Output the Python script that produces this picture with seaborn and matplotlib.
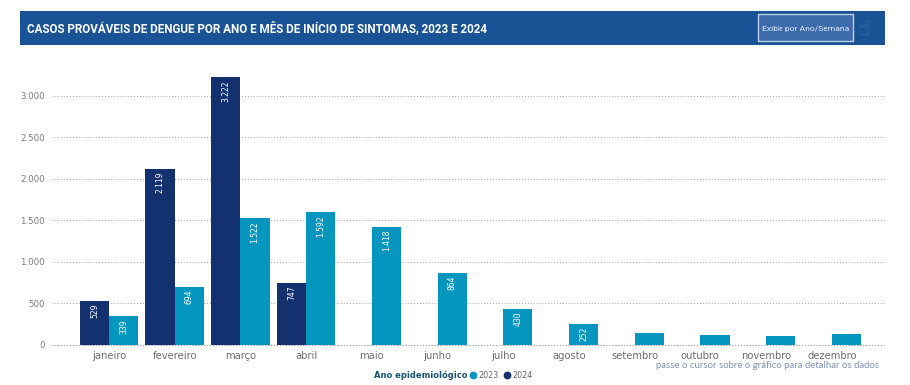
import numpy as np
import pandas as pd
import seaborn as sns
import matplotlib
matplotlib.use("Agg")
import matplotlib.pyplot as plt
from matplotlib.patches import Rectangle
from matplotlib.lines import Line2D
from matplotlib.ticker import FuncFormatter

months = ["janeiro", "fevereiro", "março", "abril", "maio", "junho", "julho",
          "agosto", "setembro", "outubro", "novembro", "dezembro"]
cases_2024 = [529, 2119, 3222, 747, np.nan, np.nan, np.nan, np.nan, np.nan, np.nan, np.nan, np.nan]
cases_2023 = [339, 694, 1522, 1592, 1418, 864, 430, 252, 135, 120, 105, 125]
labels_2024 = ["529", "2.119", "3.222", "747"]
labels_2023 = ["339", "694", "1.522", "1.592", "1.418", "864", "430", "252", "", "", "", ""]
y_ticks = [0, 500, 1000, 1500, 2000, 2500, 3000]
title = "CASOS PROVÁVEIS DE DENGUE POR ANO E MÊS DE INÍCIO DE SINTOMAS, 2023 E 2024"
button = "Exibir por Ano/Semana"
legend_title = "Ano epidemiológico"
hint = "passe o cursor sobre o gráfico para detalhar os dados"

DARK, LIGHT, BAND = "#14316f", "#0596c0", "#1a5296"
W, H = 910, 385

sns.set_theme(style="white")
plt.rcParams["font.family"] = ["DejaVu Sans"]

df = pd.DataFrame({
    "mes": months * 2,
    "ano": ["2024"] * 12 + ["2023"] * 12,
    "casos": cases_2024 + cases_2023,
})

fig = plt.figure(figsize=(W / 100, H / 100), dpi=100, facecolor="white")
ax = fig.add_axes([52 / W, (H - 344.5) / H, 833 / W, 272.8 / H])
ax.set_axisbelow(True)
ax.yaxis.grid(True, color="#a0a0a0", linestyle=(0, (1, 2)), linewidth=0.7, clip_on=False)
sns.barplot(data=df, x="mes", y="casos", hue="ano", hue_order=["2024", "2023"],
            palette={"2024": DARK, "2023": LIGHT}, width=0.89, saturation=1,
            legend=False, ax=ax, edgecolor="none", errorbar=None)
ax.set_xlim(-0.868, 11.81)
ax.set_ylim(0, 3290)
ax.set_xlabel("")
ax.set_ylabel("")
ax.set_yticks(y_ticks)
ax.yaxis.set_major_formatter(FuncFormatter(lambda v, _: f"{int(v):,}".replace(",", ".")))
ax.tick_params(axis="y", length=0, pad=5, labelsize=6.2, labelcolor="#7a7a7a")
ax.tick_params(axis="x", length=0, pad=5, labelsize=7.2, labelcolor="#6e6e6e")
for s in ax.spines.values():
    s.set_visible(False)
ax.axhline(0, color="#a0a0a0", linestyle=(0, (1, 2)), linewidth=0.7, clip_on=False, zorder=0.5)

for cont, labs in zip(ax.containers, [labels_2024, labels_2023]):
    texts = ax.bar_label(cont, labels=labs[:len(cont)], label_type="edge", padding=-2, rotation=90,
                         color="white", fontsize=5.5)
    for t in texts:
        t.set_va("top")

fig.add_artist(Rectangle((20 / W, (H - 45) / H), 865 / W, 34 / H, transform=fig.transFigure,
                         facecolor=BAND, edgecolor="none"))
fig.add_artist(Rectangle((758 / W, (H - 41) / H), 95 / W, 27 / H, transform=fig.transFigure,
                         facecolor="#3d6bab", edgecolor="#b9cfe6", linewidth=1))
fig.text(27 / W, (H - 28.5) / H, title, color="white", fontsize=8.4, fontweight="bold",
         family="Roboto", va="center", ha="left")
fig.text(805.5 / W, (H - 29) / H, button, color="#e4ecf5", fontsize=6.1,
         family="Roboto", va="center", ha="center")
fig.text(864 / W, (H - 29) / H, "\u261d", color="#3f73ac", fontsize=15, va="center", ha="center")

fig.text(374 / W, (H - 375) / H, legend_title, color="#17536f", fontsize=6, fontweight="bold",
         va="center", ha="left")
for x, col, lab in [(473, LIGHT, "2023"), (507, DARK, "2024")]:
    fig.add_artist(Line2D([x / W], [(H - 375) / H], marker="o", markersize=4.6, color=col,
                          linestyle="none", transform=fig.transFigure))
    fig.text((x + 5) / W, (H - 375) / H, lab, color="#666666", fontsize=5.8, va="center", ha="left")
fig.text(879 / W, (H - 366) / H, hint, color="#7d93b8", fontsize=6.9, family="Lato",
         va="center", ha="right")

fig.savefig("out.png", dpi=100)
